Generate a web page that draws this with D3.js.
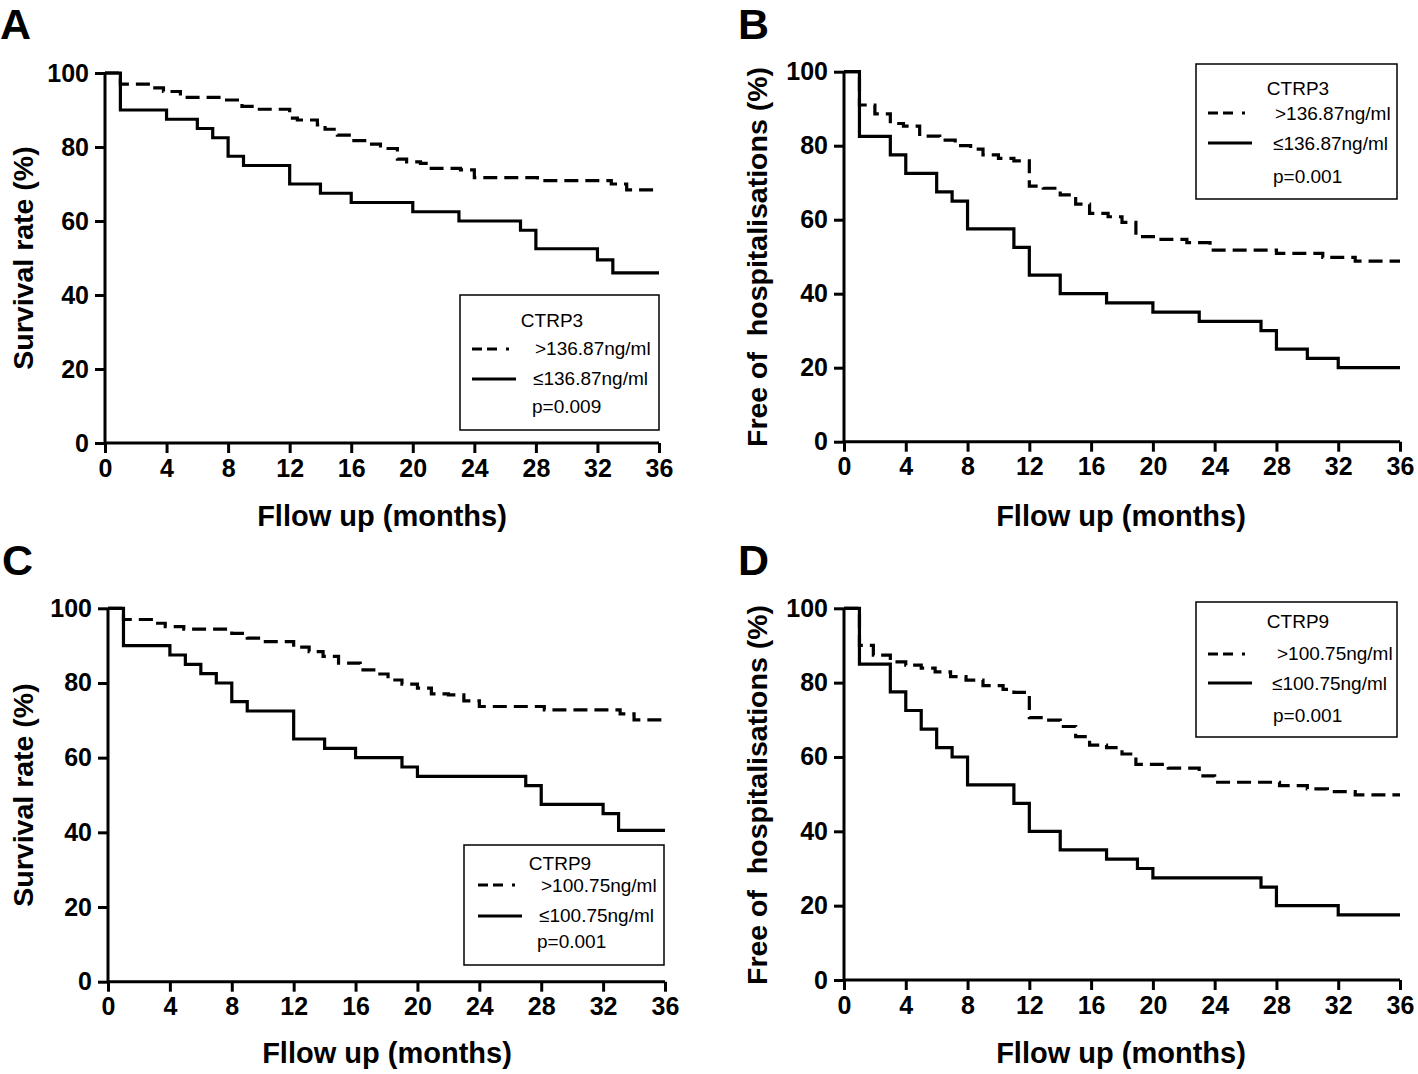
<!DOCTYPE html>
<html>
<head>
<meta charset="utf-8">
<script src="https://cdn.jsdelivr.net/npm/d3@7"></script>
<style>
  html, body { margin: 0; padding: 0; background: #fff; }
  svg { display: block; }
  text { font-family: "Liberation Sans", Arial, sans-serif; fill: #000; }
</style>
</head>
<body>
<svg id="chart" width="1418" height="1074"></svg>
<script>
// ---------- data ----------
const xTicks = [0, 4, 8, 12, 16, 20, 24, 28, 32, 36];
const yTicks = [0, 20, 40, 60, 80, 100];

// Panel A: CTRP3, survival
const aHighT = [1, 3, 3.8, 4.9, 7.9, 8.9, 9.8, 12, 12.5, 13.8, 14.3, 15.1, 16, 17.1, 17.9, 19, 19.6, 20.5, 21.2, 23.1, 24, 28.1, 32.9, 33.9];
const aHighS = [97, 96, 95, 93.4, 92.7, 91, 90.2, 87.8, 87.3, 86, 84.8, 83.2, 81.7, 80.8, 79.6, 76.7, 76, 75.6, 74.2, 73.8, 71.7, 70.9, 70, 68.4];
const aLowT = [1, 4, 6, 7, 8, 9, 12, 14, 16, 20, 23, 27, 28, 32, 33];
const aLowS = [90, 87.5, 85, 82.5, 77.5, 75, 70, 67.5, 65, 62.5, 60, 57.5, 52.5, 49.5, 46];

// Panel B: CTRP3, free of hospitalisations
const bHighT = [1, 2, 3, 3.85, 4.9, 6.2, 7.2, 8.2, 9, 10, 11, 12, 12.9, 14, 15, 15.9, 17.1, 18, 18.9, 20.3, 22.2, 23.7, 28, 31, 33.1];
const bHighS = [91, 88.6, 86, 85.3, 82.6, 81.5, 80, 79.1, 77.5, 76.6, 75.9, 69.1, 68.5, 66.7, 64.2, 61.7, 60.8, 59.3, 55.4, 54.7, 53.8, 51.8, 50.9, 49.8, 48.8];
const bLowT = [1, 3, 4, 6, 7, 8, 11, 12, 14, 17, 20, 23, 27, 28, 30, 32];
const bLowS = [82.5, 77.5, 72.5, 67.5, 65, 57.5, 52.5, 45, 40, 37.5, 35, 32.5, 30, 25, 22.5, 20];

// Panel C: CTRP9, survival
const cHighT = [1, 2.8, 3.7, 4.9, 8, 9, 9.9, 12, 13, 13.9, 14.9, 16.3, 17.3, 18.1, 19, 20, 20.9, 22, 23, 24, 28.2, 33.1, 34];
const cHighS = [97, 96, 95.1, 94.4, 93.3, 92, 91.1, 89.6, 88.4, 87.1, 85.3, 83.5, 82.4, 80.8, 79.7, 78.6, 77.1, 76.8, 75.2, 73.7, 72.8, 71.7, 70.1];
const cLowT = [1, 4, 5, 6, 7, 8, 9, 12, 14, 16, 19, 20, 27, 28, 32, 33];
const cLowS = [90, 87.5, 85, 82.5, 80, 75, 72.5, 65, 62.5, 60, 57.5, 55, 52.5, 47.5, 45, 40.5];

// Panel D: CTRP9, free of hospitalisations
const dHighT = [1, 1.9, 3, 4, 5, 5.9, 6.9, 7.9, 9, 10.3, 11, 12, 13, 14, 15, 15.9, 17, 18, 18.9, 21, 23, 24, 28.2, 30, 31.3, 33.1];
const dHighS = [90, 87.4, 85.6, 84.7, 83.9, 82.9, 81.6, 80.7, 79.2, 78.2, 77.4, 70.6, 69.9, 68.2, 65.5, 63.2, 62.5, 60.8, 58, 57, 54.9, 53.2, 52.3, 51.4, 50.7, 49.8];
const dLowT = [1, 3, 4, 5, 6, 7, 8, 11, 12, 14, 17, 19, 20, 27, 28, 32];
const dLowS = [85, 77.5, 72.5, 67.5, 62.5, 60, 52.5, 47.5, 40, 35, 32.5, 30, 27.5, 25, 20, 17.5];

const panelLetters = ["A", "B", "C", "D"];
const yLabels = ["Survival rate (%)", "Free of  hospitalisations (%)", "Survival rate (%)", "Free of  hospitalisations (%)"];
const xLabel = "Fllow up (months)";
const legendTitles = ["CTRP3", "CTRP3", "CTRP9", "CTRP9"];
const legendHigh = [">136.87ng/ml", ">136.87ng/ml", ">100.75ng/ml", ">100.75ng/ml"];
const legendLow = ["\u2264136.87ng/ml", "\u2264136.87ng/ml", "\u2264100.75ng/ml", "\u2264100.75ng/ml"];
const pValues = ["p=0.009", "p=0.001", "p=0.001", "p=0.001"];

// ---------- layout ----------
// legend rows: [titleY, dashY, highTextY, solidY, lowTextY, pY], cols: [titleCX, lineX1, lineX2, highX, lowX, pX]
const panels = [
  { x0: 105, x1: 659, yTop: 73, yBot: 443, letter: [0, 39], ylab: [33, 258], xlab: [382, 526],
    leg: { x: 460, y: 295, w: 199, h: 135, rows: [32, 54, 60, 84, 90, 118], cols: [92, 12, 54, 75, 73, 72] },
    high: [aHighT, aHighS], low: [aLowT, aLowS] },
  { x0: 844, x1: 1400, yTop: 71.7, yBot: 441.7, letter: [738, 39], ylab: [767, 257], xlab: [1121, 526],
    leg: { x: 1196, y: 64, w: 201, h: 135, rows: [31, 49, 56, 79, 86, 119], cols: [102, 12, 54, 79, 77, 77] },
    high: [bHighT, bHighS], low: [bLowT, bLowS] },
  { x0: 108, x1: 665, yTop: 608.3, yBot: 981.7, letter: [2, 575], ylab: [33, 795], xlab: [387, 1063],
    leg: { x: 464, y: 845, w: 200, h: 120, rows: [25, 40, 47, 71, 77, 103], cols: [96, 14, 56, 77, 75, 73] },
    high: [cHighT, cHighS], low: [cLowT, cLowS] },
  { x0: 844, x1: 1400, yTop: 608.3, yBot: 980, letter: [738, 575], ylab: [767, 795], xlab: [1121, 1063],
    leg: { x: 1196, y: 602, w: 201, h: 135, rows: [26, 52, 58, 81, 88, 120], cols: [102, 12, 54, 81, 76, 77] },
    high: [dHighT, dHighS], low: [dLowT, dLowS] }
];

const svg = d3.select("#chart");

function stepData(times, vals) {
  const pts = [[0, 100]];
  times.forEach((t, i) => pts.push([t, vals[i]]));
  pts.push([36, vals[vals.length - 1]]);
  return pts;
}

panels.forEach((p, i) => {
  const g = svg.append("g");
  const x = d3.scaleLinear().domain([0, 36]).range([p.x0, p.x1]);
  const y = d3.scaleLinear().domain([0, 100]).range([p.yBot, p.yTop]);

  // panel letter
  g.append("text").attr("x", p.letter[0]).attr("y", p.letter[1])
    .attr("font-size", 43).attr("font-weight", "bold").text(panelLetters[i]);

  // axes
  const xAxis = d3.axisBottom(x).tickValues(xTicks).tickSize(10).tickPadding(6).tickFormat(d3.format("d"));
  const yAxis = d3.axisLeft(y).tickValues(yTicks).tickSize(10).tickPadding(6).tickFormat(d3.format("d"));

  const gx = g.append("g").attr("transform", `translate(0,${p.yBot})`).call(xAxis);
  const gy = g.append("g").attr("transform", `translate(${p.x0},0)`).call(yAxis);
  [gx, gy].forEach(ax => {
    ax.select(".domain").attr("stroke", "#000").attr("stroke-width", 3);
    ax.selectAll(".tick line").attr("stroke", "#000").attr("stroke-width", 3);
    ax.selectAll(".tick text").attr("font-size", 25).attr("font-weight", "bold")
      .attr("font-family", "Liberation Sans, Arial, sans-serif").attr("fill", "#000");
  });
  gx.select(".domain").attr("d", `M${p.x0},0H${p.x1}`);
  gy.select(".domain").attr("d", `M0,${p.yBot + 1.5}V${p.yTop}`);

  // axis labels
  g.append("text").attr("transform", `translate(${p.ylab[0]},${p.ylab[1]}) rotate(-90)`)
    .attr("text-anchor", "middle").attr("font-size", 28.5).attr("font-weight", "bold")
    .attr("xml:space", "preserve").style("white-space", "pre").text(yLabels[i]);
  g.append("text").attr("x", p.xlab[0]).attr("y", p.xlab[1])
    .attr("text-anchor", "middle").attr("font-size", 29).attr("font-weight", "bold").text(xLabel);

  // curves
  const line = d3.line().x(d => x(d[0])).y(d => y(d[1])).curve(d3.curveStepAfter);
  g.append("path").datum(stepData(p.low[0], p.low[1]))
    .attr("d", line).attr("fill", "none").attr("stroke", "#000").attr("stroke-width", 3.2);
  g.append("path").datum(stepData(p.high[0], p.high[1]))
    .attr("d", line).attr("fill", "none").attr("stroke", "#000").attr("stroke-width", 3.2)
    .attr("stroke-dasharray", "14,7");

  // legend
  const L = p.leg, R = L.rows, C = L.cols;
  const lg = g.append("g").attr("transform", `translate(${L.x},${L.y})`);
  lg.append("rect").attr("width", L.w).attr("height", L.h)
    .attr("fill", "#fff").attr("stroke", "#000").attr("stroke-width", 1.5);
  lg.append("text").attr("x", C[0]).attr("y", R[0]).attr("text-anchor", "middle")
    .attr("font-size", 19).text(legendTitles[i]);
  lg.append("line").attr("x1", C[1]).attr("x2", C[2]).attr("y1", R[1]).attr("y2", R[1])
    .attr("stroke", "#000").attr("stroke-width", 3).attr("stroke-dasharray", "10,5,10,9,3,5");
  lg.append("text").attr("x", C[3]).attr("y", R[2]).attr("font-size", 19).text(legendHigh[i]);
  lg.append("line").attr("x1", C[1]).attr("x2", C[2] + 2).attr("y1", R[3]).attr("y2", R[3])
    .attr("stroke", "#000").attr("stroke-width", 3);
  lg.append("text").attr("x", C[4]).attr("y", R[4]).attr("font-size", 19).text(legendLow[i]);
  lg.append("text").attr("x", C[5]).attr("y", R[5]).attr("font-size", 19).text(pValues[i]);
});
</script>
</body>
</html>
